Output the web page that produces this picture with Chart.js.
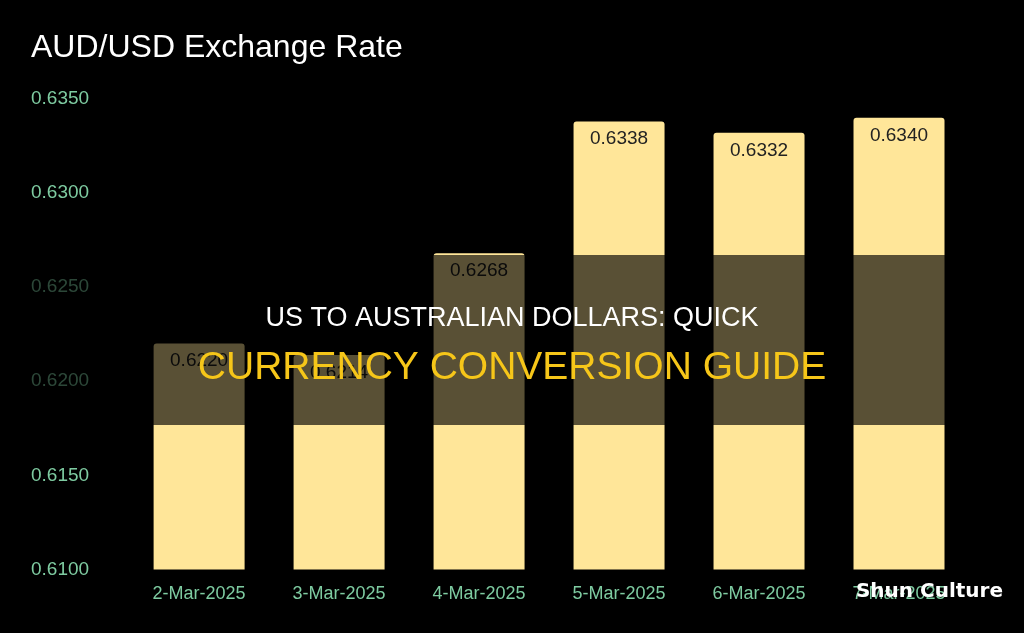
<!DOCTYPE html>
<html>
<head>
<meta charset="utf-8">
<script src="https://cdn.jsdelivr.net/npm/chart.js@4"></script>
<style>
  html, body { margin: 0; padding: 0; background: #000; }
  #wrap { width: 1024px; height: 633px; }
</style>
</head>
<body>
<div id="wrap"><canvas id="chart" width="1024" height="633"></canvas></div>
<script>
// data
const dates = ['2-Mar-2025', '3-Mar-2025', '4-Mar-2025', '5-Mar-2025', '6-Mar-2025', '7-Mar-2025'];
const rates = [0.6220, 0.6214, 0.6268, 0.6338, 0.6332, 0.6340];
const yTicks = [0.6100, 0.6150, 0.6200, 0.6250, 0.6300, 0.6350];

// value labels inside the bar tops, plus title, banner and watermark
const decorations = {
  id: 'decorations',
  afterDatasetsDraw(chart) {
    const ctx = chart.ctx;
    const meta = chart.getDatasetMeta(0);
    ctx.save();
    ctx.fillStyle = '#222';
    ctx.font = '19px "Liberation Sans", Arial, sans-serif';
    ctx.textAlign = 'center';
    ctx.textBaseline = 'top';
    meta.data.forEach((bar, i) => {
      ctx.fillText(rates[i].toFixed(4), bar.x, bar.y + 8);
    });
    ctx.restore();
  },
  afterDraw(chart) {
    const ctx = chart.ctx;
    ctx.save();
    ctx.fillStyle = '#fff';
    ctx.font = '32px "Liberation Sans", Arial, sans-serif';
    ctx.textAlign = 'left';
    ctx.textBaseline = 'middle';
    ctx.fillText('AUD/USD Exchange Rate', 31, 48);

    // dark banner across the middle
    ctx.fillStyle = 'rgba(0,0,0,0.65)';
    ctx.fillRect(0, 255, chart.width, 170);
    ctx.textAlign = 'center';
    ctx.fillStyle = '#fff';
    ctx.font = '27px "Liberation Sans", Arial, sans-serif';
    ctx.fillText('US TO AUSTRALIAN DOLLARS: QUICK', 512, 319);
    ctx.fillStyle = '#F6C619';
    ctx.font = '39px "Liberation Sans", Arial, sans-serif';
    ctx.fillText('CURRENCY CONVERSION GUIDE', 512, 368);

    ctx.fillStyle = '#fff';
    ctx.font = 'bold 20px "DejaVu Sans", sans-serif';
    ctx.textAlign = 'right';
    ctx.fillText('Shun Culture', 1003, 592);
    ctx.restore();
  }
};

new Chart(document.getElementById('chart'), {
  type: 'bar',
  data: {
    labels: dates,
    datasets: [{
      data: rates,
      backgroundColor: '#FFE699',
      borderRadius: { topLeft: 3, topRight: 3 },
      borderSkipped: 'bottom',
      categoryPercentage: 0.65,
      barPercentage: 1
    }]
  },
  options: {
    responsive: false,
    animation: false,
    layout: { padding: { top: 99, right: 55, bottom: 22, left: 31 } },
    plugins: { legend: { display: false }, tooltip: { enabled: false } },
    scales: {
      x: {
        grid: { display: false },
        border: { display: false },
        ticks: { color: '#7ECBA1', padding: 6, font: { size: 18, family: '"Liberation Sans", Arial, sans-serif' } }
      },
      y: {
        min: 0.61,
        max: 0.635,
        grid: { display: false },
        border: { display: false },
        afterBuildTicks(axis) { axis.ticks = yTicks.map(v => ({ value: v })); },
        ticks: {
          color: '#7ECBA1',
          padding: 16,
          crossAlign: 'far',
          font: { size: 19, family: '"Liberation Sans", Arial, sans-serif' },
          callback: v => v.toFixed(4)
        }
      }
    }
  },
  plugins: [decorations]
});
</script>
</body>
</html>
